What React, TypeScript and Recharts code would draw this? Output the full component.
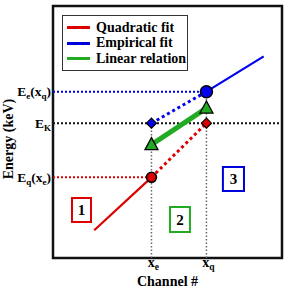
import React from 'react';
import {
  ComposedChart, Line, Scatter, XAxis, YAxis, ReferenceArea,
} from 'recharts';

const FONT = 'Liberation Serif, Times New Roman, Times, serif';

// axis ticks (data units 0..100 on both axes)
const xTicks = [43, 67];
const xTickText = [['x', 'e'], ['x', 'q']];
const yTicks = [32, 53.5, 66];
const yTickText = [['E', 'q', '(x', 'e', ')'], ['E', 'K'], ['E', 'e', '(x', 'q', ')']];

// fit lines
const redSolid = [{ x: 18, y: 11 }, { x: 43, y: 32 }];
const redDotted = [{ x: 43, y: 32 }, { x: 67, y: 53.5 }];
const blueDotted = [{ x: 43, y: 53.5 }, { x: 67, y: 66 }];
const blueSolid = [{ x: 67, y: 66 }, { x: 92, y: 80 }];
const greenLine = [{ x: 43, y: 45 }, { x: 67, y: 59.5 }];

// guide lines
const guideEK = [{ x: 0, y: 53.5 }, { x: 100, y: 53.5 }];
const guideEe = [{ x: 0, y: 66 }, { x: 67, y: 66 }];
const guideEq = [{ x: 0, y: 32 }, { x: 43, y: 32 }];
const guideXe = [{ x: 43, y: 0 }, { x: 43, y: 53.5 }];
const guideXq = [{ x: 67, y: 0 }, { x: 67, y: 66 }];

// markers
const redCircle = [{ x: 43, y: 32 }];
const blueCircle = [{ x: 67, y: 66 }];
const redDiamond = [{ x: 67, y: 53.5 }];
const blueDiamond = [{ x: 43, y: 53.5 }];
const greenTriangles = [{ x: 43, y: 45 }, { x: 67, y: 59.5 }];

// region boxes
const boxes = [
  { id: '1', x1: 8.3, x2: 16.6, y1: 14.3, y2: 23.8, color: '#dd0000' },
  { id: '2', x1: 51.1, x2: 59.8, y1: 10.3, y2: 20.2, color: '#22aa22' },
  { id: '3', x1: 74.2, x2: 83.4, y1: 26.6, y2: 36.1, color: '#0000dd' },
];

const legendItems = [
  { name: 'Quadratic fit', color: '#dd0000' },
  { name: 'Empirical fit', color: '#0000dd' },
  { name: 'Linear relation', color: '#22aa22' },
];

const RED = '#dd0000';
const BLUE = '#0000ee';
const GREEN = '#22aa22';

function YTick(props: any) {
  const { x, y, payload } = props;
  const idx = yTicks.indexOf(payload.value);
  const parts = yTickText[idx] || [];
  return (
    <text x={x} y={y + 4.5} textAnchor="end" fontFamily={FONT} fontWeight="bold" fontSize={13.5} fill="#000">
      {parts.map((p, i) => (
        i % 2 === 1
          ? <tspan key={i} fontSize={9} dy={3}>{p}</tspan>
          : <tspan key={i} dy={i === 0 ? 0 : -3}>{p}</tspan>
      ))}
    </text>
  );
}

function XTick(props: any) {
  const { x, payload } = props;
  const idx = xTicks.indexOf(payload.value);
  const parts = xTickText[idx] || [];
  return (
    <text x={x + 2} y={267} textAnchor="middle" fontFamily={FONT} fontWeight="bold" fontSize={14} fill="#000">
      <tspan>{parts[0]}</tspan>
      <tspan fontSize={9.5} dy={3}>{parts[1]}</tspan>
    </text>
  );
}

const circleShape = (fill: string, r: number) => (p: any) => (
  <circle cx={p.cx} cy={p.cy} r={r} fill={fill} stroke="#000" strokeWidth={1.5} />
);
const diamondShape = (fill: string) => (p: any) => (
  <polygon points={`${p.cx},${p.cy - 5} ${p.cx + 5},${p.cy} ${p.cx},${p.cy + 5} ${p.cx - 5},${p.cy}`} fill={fill} stroke="#000" strokeWidth={1.2} />
);
const triangleShape = (p: any) => (
  <polygon points={`${p.cx},${p.cy - 7} ${p.cx + 6.5},${p.cy + 5} ${p.cx - 6.5},${p.cy + 5}`} fill={GREEN} stroke="#000" strokeWidth={1.3} />
);

function guide(data: any[], stroke: string, w: number, dash: string, key: string) {
  return (
    <Line key={key} data={data} dataKey="y" stroke={stroke} strokeWidth={w} strokeDasharray={dash}
      dot={false} activeDot={false} isAnimationActive={false} legendType="none" />
  );
}

export default function App() {
  return (
    <div style={{ position: 'fixed', left: 0, top: 0, width: 289, height: 289, background: '#fff', fontFamily: FONT }}>
      <ComposedChart width={289} height={289} margin={{ top: 6, right: 7, bottom: 0, left: 0 }} style={{ fontFamily: FONT }}>
        <XAxis type="number" dataKey="x" domain={[0, 100]} ticks={xTicks} tick={<XTick />}
          tickLine={false} axisLine={false} height={31}
          label={{ value: 'Channel #', position: 'insideBottom', offset: 3, fontFamily: FONT, fontWeight: 'bold', fontSize: 14, fill: '#000' }} />
        <YAxis type="number" domain={[0, 100]} ticks={yTicks} tick={<YTick />}
          tickLine={false} axisLine={false} width={53} tickSize={0} tickMargin={2}
          label={{
            content: () => (
              <text x={8} y={139} transform="rotate(-90 8 139)" textAnchor="middle" dominantBaseline="central"
                fontFamily={FONT} fontWeight="bold" fontSize={14} fill="#000">Energy (keV)</text>
            ),
          }} />
        {boxes.map(b => (
          <ReferenceArea key={b.id} x1={b.x1} x2={b.x2} y1={b.y1} y2={b.y2} fill="#fff" fillOpacity={1}
            stroke={b.color} strokeWidth={2} ifOverflow="visible"
            label={{ value: b.id, position: 'center', fontFamily: FONT, fontWeight: 'bold', fontSize: 15, fill: '#000' }} />
        ))}
        {guide(guideXe, '#666', 1.5, '1.5 2', 'gxe')}
        {guide(guideXq, '#666', 1.5, '1.5 2', 'gxq')}
        {guide(guideEK, '#111', 2, '2 2', 'gek')}
        {guide(guideEe, BLUE, 2, '2 2', 'gee')}
        {guide(guideEq, RED, 2, '2 2', 'geq')}
        {guide(redDotted, RED, 3, '3 3', 'rd')}
        {guide(blueDotted, BLUE, 3, '3 3', 'bd')}
        <Line data={redSolid} dataKey="y" stroke={RED} strokeWidth={2.2} dot={false} activeDot={false} isAnimationActive={false} />
        <Line data={blueSolid} dataKey="y" stroke={BLUE} strokeWidth={2.2} dot={false} activeDot={false} isAnimationActive={false} />
        <Line data={greenLine} dataKey="y" stroke={GREEN} strokeWidth={5} dot={false} activeDot={false} isAnimationActive={false} />
        <Scatter data={blueDiamond} dataKey="y" shape={diamondShape(BLUE)} isAnimationActive={false} />
        <Scatter data={redDiamond} dataKey="y" shape={diamondShape(RED)} isAnimationActive={false} />
        <Scatter data={greenTriangles} dataKey="y" shape={triangleShape} isAnimationActive={false} />
        <Scatter data={redCircle} dataKey="y" shape={circleShape(RED, 5)} isAnimationActive={false} />
        <Scatter data={blueCircle} dataKey="y" shape={circleShape(BLUE, 6)} isAnimationActive={false} />
        <ReferenceArea x1={0} x2={100} y1={0} y2={100} fill="none" stroke="#111" strokeWidth={2.5} />
      </ComposedChart>
      <div style={{
        position: 'absolute', left: 62, top: 15, width: 124, height: 50, border: '1.5px solid #333',
        background: '#fff', boxSizing: 'content-box', paddingTop: 4, fontFamily: FONT, fontWeight: 'bold', fontSize: 14,
      }}>
        {legendItems.map(it => (
          <div key={it.name} style={{ display: 'flex', alignItems: 'center', height: 15.5, whiteSpace: 'nowrap' }}>
            <span style={{ display: 'inline-block', width: 23, height: 3, background: it.color, marginLeft: 4, marginRight: 6 }} />
            <span>{it.name}</span>
          </div>
        ))}
      </div>
    </div>
  );
}
